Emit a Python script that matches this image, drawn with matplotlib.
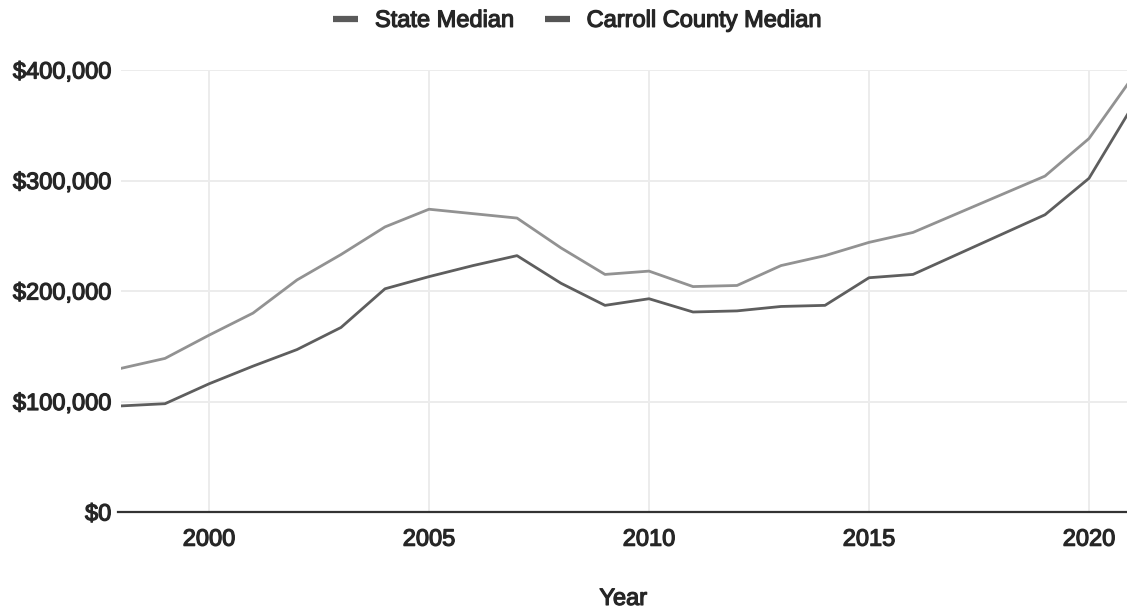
import matplotlib
matplotlib.use("Agg")
from matplotlib import pyplot as plt
from matplotlib import patheffects as pe
from matplotlib.ticker import FuncFormatter
from matplotlib.lines import Line2D

plt.rcParams['font.family'] = ['Liberation Sans', 'DejaVu Sans']

years = list(range(1998, 2022))
state_median = [130000, 139000, 160000, 180000, 210000, 233000, 258000, 274000,
                270000, 266000, 239000, 215000, 218000, 204000, 205000, 223000,
                232000, 244000, 253000, 270000, 287000, 304000, 338000, 394000]
county_median = [96000, 98000, 116000, 132000, 147000, 167000, 202000, 213000,
                 223000, 232000, 207000, 187000, 193000, 181000, 182000, 186000,
                 187000, 212000, 215000, 233000, 251000, 269000, 302000, 368000]
series_names = ['State Median', 'Carroll County Median']
y_ticks = [0, 100000, 200000, 300000, 400000]
x_ticks = [2000, 2005, 2010, 2015, 2020]

state_color = '#929292'
county_color = '#5e5e5e'
text_color = '#262626'
# thicken the regular glyphs a little
heavy = [pe.withStroke(linewidth=0.9, foreground=text_color)]

fig = plt.figure(figsize=(11.27, 6.13), dpi=100)
ax = fig.add_axes([121 / 1127, 101 / 613, 1012 / 1127, 442 / 613])

ax.plot(years, state_median, color=state_color, linewidth=2.0, zorder=3)
ax.plot(years, county_median, color=county_color, linewidth=2.0, zorder=3)

ax.set_xlim(1998, 2021)
ax.set_ylim(0, 400000)
ax.set_xticks(x_ticks)
ax.set_yticks(y_ticks)
ax.yaxis.set_major_formatter(FuncFormatter(lambda v, p: f'${int(v):,}'))
ax.grid(True, color='#ececec', linewidth=1.4, zorder=0)
ax.tick_params(length=0, labelsize=17, labelcolor=text_color)
ax.tick_params(axis='y', pad=7)
ax.tick_params(axis='x', pad=12)
for tick in ax.xaxis.get_major_ticks() + ax.yaxis.get_major_ticks():
    tick.label1.set_path_effects(heavy)
for side in ['top', 'right', 'left']:
    ax.spines[side].set_visible(False)
ax.spines['bottom'].set_color('#333333')
ax.spines['bottom'].set_linewidth(1.6)
ax.spines['bottom'].set_bounds(1997.93, 2021)
ax.spines['bottom'].set_zorder(4)

fig.text(0.553, 0.005, 'Year', ha='center', va='bottom', fontsize=17,
         color=text_color, path_effects=heavy)

handles = [Line2D([], [], color='#5a5a5a', linewidth=4.5, solid_capstyle='butt'),
           Line2D([], [], color='#555555', linewidth=4.5, solid_capstyle='butt')]
leg = fig.legend(handles, series_names, loc='center', bbox_to_anchor=(0.5125, 0.966),
                 ncol=2, frameon=False, fontsize=17, handlelength=1.06,
                 handletextpad=0.72, columnspacing=1.27, labelcolor=text_color)
for t in leg.get_texts():
    t.set_path_effects(heavy)

fig.savefig('out.png', dpi=100)
